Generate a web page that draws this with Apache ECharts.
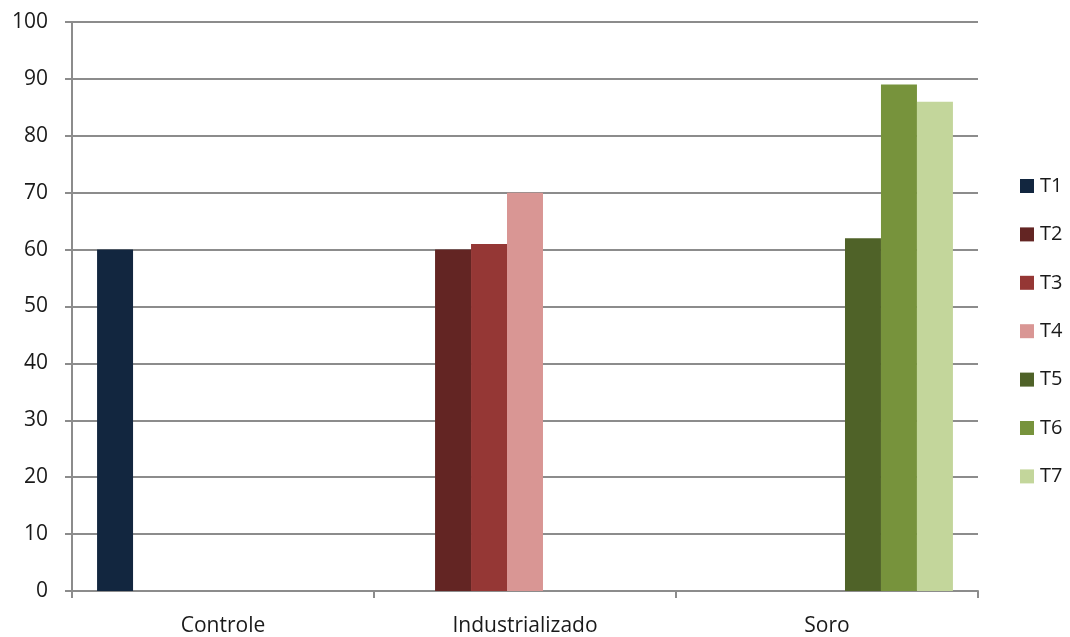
<!DOCTYPE html>
<html>
<head>
<meta charset="utf-8">
<script src="https://cdn.jsdelivr.net/npm/echarts@6/dist/echarts.min.js"></script>
<style>html,body{margin:0;padding:0;background:#fff}#c{width:1070px;height:637px}</style>
</head>
<body>
<div id="c"></div>
<script>
const categories = ['Controle', 'Industrializado', 'Soro'];
const seriesNames = ['T1', 'T2', 'T3', 'T4', 'T5', 'T6', 'T7'];
const T1 = [60, 0, 0];
const T2 = [0, 60, 0];
const T3 = [0, 61, 0];
const T4 = [0, 70, 0];
const T5 = [0, 0, 62];
const T6 = [0, 0, 89];
const T7 = [0, 0, 86];
const values = [T1, T2, T3, T4, T5, T6, T7];
const colors = ['#12263f', '#632523', '#953735', '#d99694', '#4f6228', '#77933c', '#c3d69b'];

const FONT = 'Open Sans';
const chart = echarts.init(document.getElementById('c'), null, {renderer: 'canvas'});
chart.setOption({
  animation: false,
  backgroundColor: '#ffffff',
  textStyle: {fontFamily: FONT},
  grid: {left: 72, right: 92, top: 22, bottom: 45, containLabel: false},
  legend: {
    orient: 'vertical',
    left: 1020,
    top: 176,
    padding: 0,
    itemWidth: 14,
    itemHeight: 14,
    itemGap: 28.4,
    icon: 'rect',
    data: seriesNames,
    textStyle: {fontFamily: FONT, fontSize: 20, lineHeight: 20, color: '#1a1a1a', padding: [0, 0, 0, 1]}
  },
  xAxis: {
    type: 'category',
    data: categories,
    axisLine: {lineStyle: {color: '#8c8c8c', width: 2}},
    axisTick: {show: true, alignWithLabel: false, length: 7, lineStyle: {color: '#8c8c8c', width: 2}},
    axisLabel: {fontFamily: FONT, fontSize: 21, color: '#1a1a1a', margin: 25}
  },
  yAxis: {
    type: 'value',
    min: 0, max: 100, interval: 10,
    axisLine: {show: true, lineStyle: {color: '#8c8c8c', width: 2}},
    axisTick: {show: true, length: 7, lineStyle: {color: '#8c8c8c', width: 2}},
    splitLine: {lineStyle: {color: '#8c8c8c', width: 2}},
    axisLabel: {fontFamily: FONT, fontSize: 21, color: '#1a1a1a', margin: 24}
  },
  series: seriesNames.map((n, i) => ({
    name: n,
    type: 'bar',
    data: values[i],
    barGap: '0%',
    barCategoryGap: '16.6%',
    itemStyle: {color: colors[i]}
  }))
});
</script>
</body>
</html>
